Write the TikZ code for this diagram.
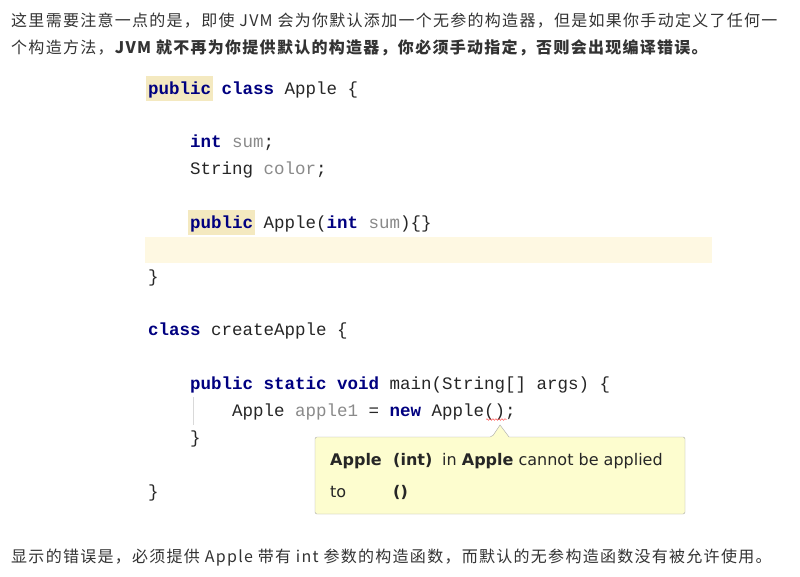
\documentclass[tikz,border=0pt]{standalone}
\usepackage{fontspec}
\setmainfont{DejaVu Sans}
\newfontfamily\cjk[LetterSpace=8]{Noto Sans CJK SC}
\newfontfamily\codefont{Liberation Mono}
\newfontfamily\tipfont{DejaVu Sans}
\usetikzlibrary{decorations.pathmorphing}
\definecolor{txtgray}{HTML}{333333}
\definecolor{kwblue}{HTML}{000080}
\definecolor{fieldgray}{HTML}{8A8A8A}
\definecolor{linehl}{HTML}{FEF8E2}
\definecolor{wordhl}{HTML}{F4E9C0}
\definecolor{tipfill}{HTML}{FDFDCF}
\definecolor{tipborder}{HTML}{A8A8A8}
\newcommand\kw[1]{\textcolor{kwblue}{\bfseries #1}}
\newcommand\fld[1]{\textcolor{fieldgray}{#1}}
\tikzset{
  code/.style={anchor=base west, inner sep=0pt, text=black!85,
    font=\codefont\fontsize{17.5}{20}\selectfont},
  para/.style={anchor=base west, inner sep=0pt, text=txtgray,
    font=\cjk\fontsize{16}{20}\selectfont},
  tip/.style={anchor=base west, inner sep=0pt, text=black!85,
    font=\tipfont\fontsize{16}{20}\selectfont}
}

\begin{document}
\begin{tikzpicture}[x=1pt,y=-1pt]
      \fill[white] (0,0) rectangle (800,576);
      \useasboundingbox (0,0) rectangle (800,576);
      % text above
      \node[para] (intro1) at (11,26) {这里需要注意一点的是，即使 JVM 会为你默认添加一个无参的构造器，但是如果你手动定义了任何一};
      \node[para] (intro2) at (11,53) {个构造方法，\textbf{JVM 就不再为你提供默认的构造器，你必须手动指定，否则会出现编译错误。}};
      % highlights
      \fill[linehl] (145,237) rectangle (712,263);
      \fill[wordhl] (146,76) rectangle (213,101);
      \fill[wordhl] (188,210) rectangle (255,235);
      \draw[black!15, line width=0.8pt] (193,397) -- (193,425);
      % code
      \node[code] (cls) at (148,94) {\kw{public} \kw{class} Apple \{};
      \node[code] (fsum) at (190,147.7) {\kw{int} \fld{sum};};
      \node[code] (fcolor) at (190,174.6) {String \fld{color};};
      \node[code] (ctor) at (190,228.4) {\kw{public} Apple(\kw{int} \fld{sum})\{\}};
      \node[code] (clsend) at (148,282.1) {\}};
      \node[code] (cls2) at (148,335.8) {\kw{class} createApple \{};
      \node[code] (mainm) at (190,389.6) {\kw{public} \kw{static} \kw{void} main(String[] args) \{};
      \node[code] (newapple) at (232,416.4) {Apple \fld{apple1} = \kw{new} Apple();};
      \node[code] (mainend) at (190,443.3) {\}};
      \node[code] (cls2end) at (148,497.1) {\}};
      \draw[red!80, decorate, decoration={snake, amplitude=0.8pt, segment length=3pt}] (486,419.5) -- (507,419.5);
      % tooltip
      \draw[tipborder, fill=tipfill, rounded corners=2pt] (315,437) -- (492,437) [sharp corners] -- (500,425) -- (509,437) [rounded corners=2pt] -- (685,437) -- (685,514) -- (315,514) -- cycle;
      \node[tip] (tipname) at (330,465) {\bfseries Apple};
      \node[tip] (tiparg) at (393,465) {\bfseries (int)};
      \node[tip] (tipmsg) at (442,465) {in \textbf{Apple} cannot be applied};
      \node[tip] (tipto) at (330,497) {to};
      \node[tip] (tipempty) at (393,497) {\bfseries ()};
      % text below
      \node[para] (outro) at (11,562) {显示的错误是，必须提供 Apple 带有 int 参数的构造函数，而默认的无参构造函数没有被允许使用。};
\end{tikzpicture}
\end{document}
